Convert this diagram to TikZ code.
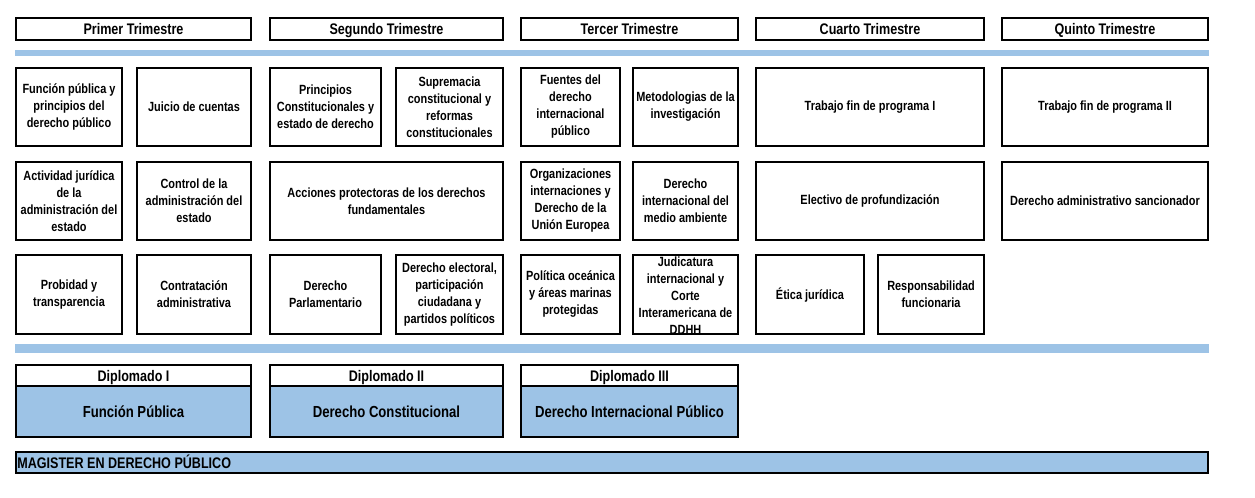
\documentclass[tikz,border=0pt]{standalone}
\usepackage{fontspec}
\setmainfont{Liberation Sans}[FakeStretch=0.82]
\usetikzlibrary{positioning}
\definecolor{barblue}{RGB}{157,195,230}

\begin{document}
\begin{tikzpicture}[x=0.75pt,y=-0.75pt]
	\tikzstyle{course}=[rectangle,draw=black,line width=1.5pt,outer sep=0pt,inner sep=1pt,align=center,font=\fontsize{10}{12.75}\selectfont\bfseries]
	\tikzstyle{term}=[course,minimum height=16.5pt,text height=10pt,text depth=1pt,font=\fontsize{11.5}{13}\selectfont\bfseries]
	\tikzstyle{diploma}=[course,fill=barblue,minimum height=38.25pt,text height=10pt,text depth=1.7pt,font=\fontsize{12}{14}\selectfont\bfseries]
	\tikzstyle{rowone}=[course,minimum height=58.5pt]
	\tikzstyle{rowtwo}=[course,minimum height=58.5pt]
	\tikzstyle{rowthree}=[course,minimum height=59.25pt]
	\useasboundingbox (0,0) rectangle (1255,498);
	% trimestres
	\node[term,minimum width=176.25pt] (t1) at (133.5,29) {Primer Trimestre};
	\node[term,minimum width=174.75pt] (t2) at (386.5,29) {Segundo Trimestre};
	\node[term,minimum width=162.75pt] (t3) at (629.5,29) {Tercer Trimestre};
	\node[term,minimum width=171pt] (t4) at (870,29) {Cuarto Trimestre};
	\node[term,minimum width=154.5pt] (t5) at (1105,29) {Quinto Trimestre};
	\fill[barblue] (15,50) rectangle (1209,56);
	% primera fila
	\node[rowone,minimum width=79.5pt] (fp) at (69,107) {Función pública y\\principios del\\derecho público};
	\node[rowone,minimum width=85.5pt] (jc) at (194,107) {Juicio de cuentas};
	\node[rowone,minimum width=83.25pt] (pc) at (325.5,107) {Principios\\Constitucionales y\\estado de derecho};
	\node[rowone,minimum width=80.25pt] (sc) at (449.5,107) {Supremacia\\constitucional y\\reformas\\constitucionales};
	\node[rowone,minimum width=74.25pt] (fd) at (570.5,107) {Fuentes del\\derecho\\internacional\\público};
	\node[rowone,minimum width=78.75pt] (mi) at (685.5,107) {Metodologias de la\\investigación};
	\node[rowone,minimum width=171pt] (tf1) at (870,107) {Trabajo fin de programa I};
	\node[rowone,minimum width=154.5pt] (tf2) at (1105,107) {Trabajo fin de programa II};
	% segunda fila
	\node[rowtwo,minimum width=79.5pt] (aj) at (69,201) {Actividad jurídica\\de la\\administración del\\estado};
	\node[rowtwo,minimum width=85.5pt] (ca) at (194,201) {Control de la\\administración del\\estado};
	\node[rowtwo,minimum width=174.75pt] (ap) at (386.5,201) {Acciones protectoras de los derechos\\fundamentales};
	\node[rowtwo,minimum width=74.25pt] (oi) at (570.5,201) {Organizaciones\\internaciones y\\Derecho de la\\Unión Europea};
	\node[rowtwo,minimum width=78.75pt] (dm) at (685.5,201) {Derecho\\internacional del\\medio ambiente};
	\node[rowtwo,minimum width=171pt] (ep) at (870,201) {Electivo de profundización};
	\node[rowtwo,minimum width=154.5pt] (ds) at (1105,201) {Derecho administrativo sancionador};
	% tercera fila
	\node[rowthree,minimum width=79.5pt] (pt) at (69,294.5) {Probidad y\\transparencia};
	\node[rowthree,minimum width=85.5pt] (co) at (194,294.5) {Contratación\\administrativa};
	\node[rowthree,minimum width=83.25pt] (dp) at (325.5,294.5) {Derecho\\Parlamentario};
	\node[rowthree,minimum width=80.25pt] (de) at (449.5,294.5) {Derecho electoral,\\participación\\ciudadana y\\partidos políticos};
	\node[rowthree,minimum width=74.25pt] (po) at (570.5,294.5) {Política oceánica\\y áreas marinas\\protegidas};
	\node[course,draw=none] (ji-text) at (685.5,296) {Judicatura\\internacional y\\Corte\\Interamericana de\\DDHH};
	\node[rowthree,minimum width=78.75pt] (ji) at (685.5,294.5) {};
	\node[rowthree,minimum width=81pt] (et) at (810,294.5) {Ética jurídica};
	\node[rowthree,minimum width=79.5pt] (rf) at (931,294.5) {Responsabilidad\\funcionaria};
	\fill[barblue] (15,344) rectangle (1209,353);
	% diplomados
	\node[term,minimum width=176.25pt,minimum height=15.75pt] (d1) at (133.5,375.5) {Diplomado I};
	\node[diploma,minimum width=176.25pt,below=0pt of d1] (d1-name) {Función Pública};
	\node[term,minimum width=174.75pt,minimum height=15.75pt] (d2) at (386.5,375.5) {Diplomado II};
	\node[diploma,minimum width=174.75pt,below=0pt of d2] (d2-name) {Derecho Constitucional};
	\node[term,minimum width=162.75pt,minimum height=15.75pt] (d3) at (629.5,375.5) {Diplomado III};
	\node[diploma,minimum width=162.75pt,below=0pt of d3] (d3-name) {Derecho Internacional Público};
	% magister
	\node[term,fill=barblue,minimum height=15.75pt,text width=892pt,align=flush left] (mag) at (612,462.5) {MAGISTER EN DERECHO PÚBLICO};
\end{tikzpicture}
\end{document}
